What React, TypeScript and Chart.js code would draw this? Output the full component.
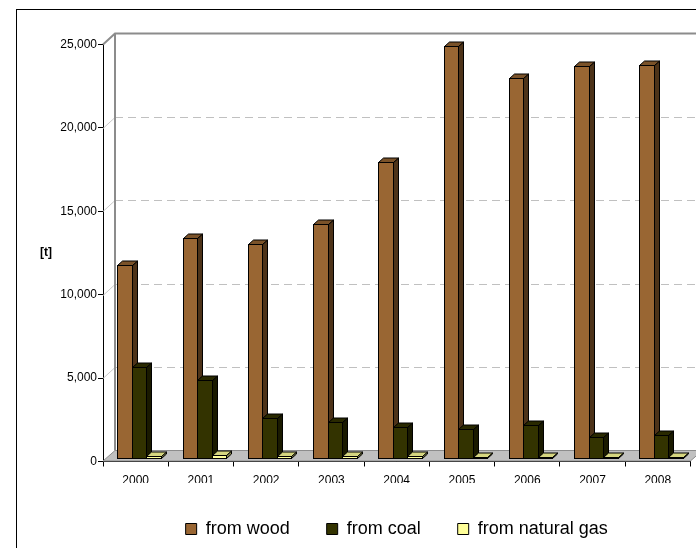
import { useEffect, useRef } from "react";
import { Chart, registerables } from "chart.js";

Chart.register(...registerables);

const years = ["2000", "2001", "2002", "2003", "2004", "2005", "2006", "2007", "2008"];
const fromWood = [11600, 13200, 12850, 14050, 17750, 24700, 22800, 23500, 23550];
const fromCoal = [5470, 4690, 2430, 2190, 1860, 1760, 2000, 1290, 1400];
const fromGas = [120, 170, 110, 110, 110, 100, 60, 60, 60];
const seriesNames = ["from wood", "from coal", "from natural gas"];
const yMax = 25000;
const yStep = 5000;
const unitLabel = "[t]";

const FONT = '"Liberation Sans", Arial, sans-serif';
const FRONT = ["#996633", "#333300", "#ffff99"];
const TOP = ["#7a5229", "#292900", "#d6d680"];
const SIDE = ["#4d3319", "#1a1a00", "#8c8c4d"];

const WALL_DX = 12;
const WALL_DY = -11;
const BAR_SX = 3.4;
const BAR_SY = -3.2;
const BAR_DX = 5;
const BAR_DY = -4.5;

const threeD = {
  id: "threeD",
  beforeDatasetsDraw(chart: any) {
    const { ctx, chartArea, scales } = chart;
    const { left, right, top, bottom } = chartArea;
    const y = scales.y;
    ctx.save();
    // side-wall gridline diagonals
    ctx.strokeStyle = "#c8c8c8";
    ctx.lineWidth = 1;
    for (let v = yStep; v < yMax; v += yStep) {
      const py = Math.round(y.getPixelForValue(v)) + 0.5;
      ctx.beginPath();
      ctx.moveTo(left, py);
      ctx.lineTo(left + WALL_DX, py + WALL_DY);
      ctx.stroke();
    }
    // back wall gridlines
    ctx.setLineDash([8, 5]);
    ctx.strokeStyle = "#c0c0c0";
    for (let v = yStep; v < yMax; v += yStep) {
      const py = Math.round(y.getPixelForValue(v) + WALL_DY) + 0.5;
      ctx.beginPath();
      ctx.moveTo(left + WALL_DX, py);
      ctx.lineTo(right + WALL_DX, py);
      ctx.stroke();
    }
    ctx.setLineDash([]);
    // wall edges
    ctx.strokeStyle = "#8c8c8c";
    ctx.lineWidth = 2;
    const ty = y.getPixelForValue(yMax);
    ctx.beginPath();
    ctx.moveTo(left, ty);
    ctx.lineTo(left + WALL_DX, ty + WALL_DY);
    ctx.lineTo(right + WALL_DX + 60, ty + WALL_DY);
    ctx.moveTo(left + WALL_DX, ty + WALL_DY);
    ctx.lineTo(left + WALL_DX, bottom + WALL_DY);
    ctx.stroke();
    // floor
    ctx.fillStyle = "#c0c0c0";
    ctx.strokeStyle = "#8c8c8c";
    ctx.lineWidth = 1;
    ctx.beginPath();
    ctx.moveTo(left, bottom - 0.5);
    ctx.lineTo(right, bottom - 0.5);
    ctx.lineTo(right + WALL_DX, bottom + WALL_DY);
    ctx.lineTo(left + WALL_DX, bottom + WALL_DY);
    ctx.closePath();
    ctx.fill();
    ctx.stroke();
    // bars
    const n = chart.data.labels.length;
    ctx.strokeStyle = "#000";
    ctx.lineWidth = 1;
    ctx.lineJoin = "miter";
    for (let i = 0; i < n; i++) {
      for (let d = 0; d < chart.data.datasets.length; d++) {
        const el = chart.getDatasetMeta(d).data[i];
        const p = el.getProps(["x", "y", "base", "width"], true);
        const x0 = Math.round(p.x - p.width / 2 + BAR_SX) + 0.5;
        const x1 = Math.round(p.x + p.width / 2 + BAR_SX) + 0.5;
        const yt = Math.round(p.y + BAR_SY) + 0.5;
        const yb = Math.round(p.base + BAR_SY) + 0.5;
        // side
        ctx.fillStyle = SIDE[d];
        ctx.beginPath();
        ctx.moveTo(x1, yt);
        ctx.lineTo(x1 + BAR_DX, yt + BAR_DY);
        ctx.lineTo(x1 + BAR_DX, yb + BAR_DY);
        ctx.lineTo(x1, yb);
        ctx.closePath();
        ctx.fill();
        ctx.stroke();
        // top
        ctx.fillStyle = TOP[d];
        ctx.beginPath();
        ctx.moveTo(x0, yt);
        ctx.lineTo(x0 + BAR_DX, yt + BAR_DY);
        ctx.lineTo(x1 + BAR_DX, yt + BAR_DY);
        ctx.lineTo(x1, yt);
        ctx.closePath();
        ctx.fill();
        ctx.stroke();
        // front
        ctx.fillStyle = FRONT[d];
        ctx.fillRect(x0, yt, x1 - x0, yb - yt);
        ctx.strokeRect(x0, yt, x1 - x0, yb - yt);
      }
    }
    ctx.restore();
    return false;
  },
  afterDraw(chart: any) {
    const { ctx, chartArea } = chart;
    ctx.save();
    ctx.fillStyle = "#000";
    ctx.font = "bold 12px " + FONT;
    ctx.textAlign = "center";
    ctx.textBaseline = "middle";
    ctx.fillText(unitLabel, chartArea.left - 57, (chartArea.top + chartArea.bottom) / 2);
    ctx.restore();
  },
};

function ChartCanvas() {
  const ref = useRef<HTMLCanvasElement | null>(null);
  useEffect(() => {
    if (!ref.current) return;
    const chart = new Chart(ref.current, {
      type: "bar",
      data: {
        labels: years,
        datasets: [fromWood, fromCoal, fromGas].map((vals, i) => ({
          label: seriesNames[i],
          data: vals,
          backgroundColor: FRONT[i],
          borderColor: "#000",
          borderWidth: 1,
          categoryPercentage: 0.666,
          barPercentage: 1,
        })),
      },
      options: {
        responsive: false,
        animation: false,
        devicePixelRatio: 1,
        layout: { padding: { left: 0, right: 90.6, top: 34.5, bottom: 22 } },
        plugins: {
          legend: {
            position: "bottom",
            fullSize: false,
            labels: {
              boxWidth: 11,
              boxHeight: 11,
              padding: 37,
              color: "#000",
              font: { size: 18, family: FONT },
            },
          },
          tooltip: { enabled: false },
        },
        scales: {
          x: {
            grid: { offset: true, drawOnChartArea: false, drawTicks: true, tickLength: 5, color: "#000" },
            border: { color: "#000", width: 1 },
            ticks: { color: "#000", font: { size: 12, family: FONT }, padding: 7, maxRotation: 0 },
            afterFit(s: any) {
              s.height = 21.5;
            },
          },
          y: {
            min: 0,
            max: yMax,
            ticks: { stepSize: yStep, color: "#000", font: { size: 12, family: FONT }, padding: 1 },
            grid: { drawOnChartArea: false, drawTicks: true, tickLength: 5, color: "#000" },
            border: { color: "#000", width: 1 },
            afterFit(s: any) {
              s.width = 86;
            },
          },
        },
      },
      plugins: [threeD],
    } as any);
    return () => chart.destroy();
  }, []);
  return <canvas ref={ref} width={764} height={560} style={{ display: "block" }} />;
}

export default function App() {
  return (
    <div
      style={{
        position: "fixed",
        left: 0,
        top: 0,
        width: 696,
        height: 548,
        overflow: "hidden",
        background: "#fff",
      }}
    >
      <div
        style={{
          position: "absolute",
          left: 16,
          top: 9,
          width: 764,
          height: 560,
          border: "1px solid #000",
        }}
      >
        <ChartCanvas />
      </div>
    </div>
  );
}
